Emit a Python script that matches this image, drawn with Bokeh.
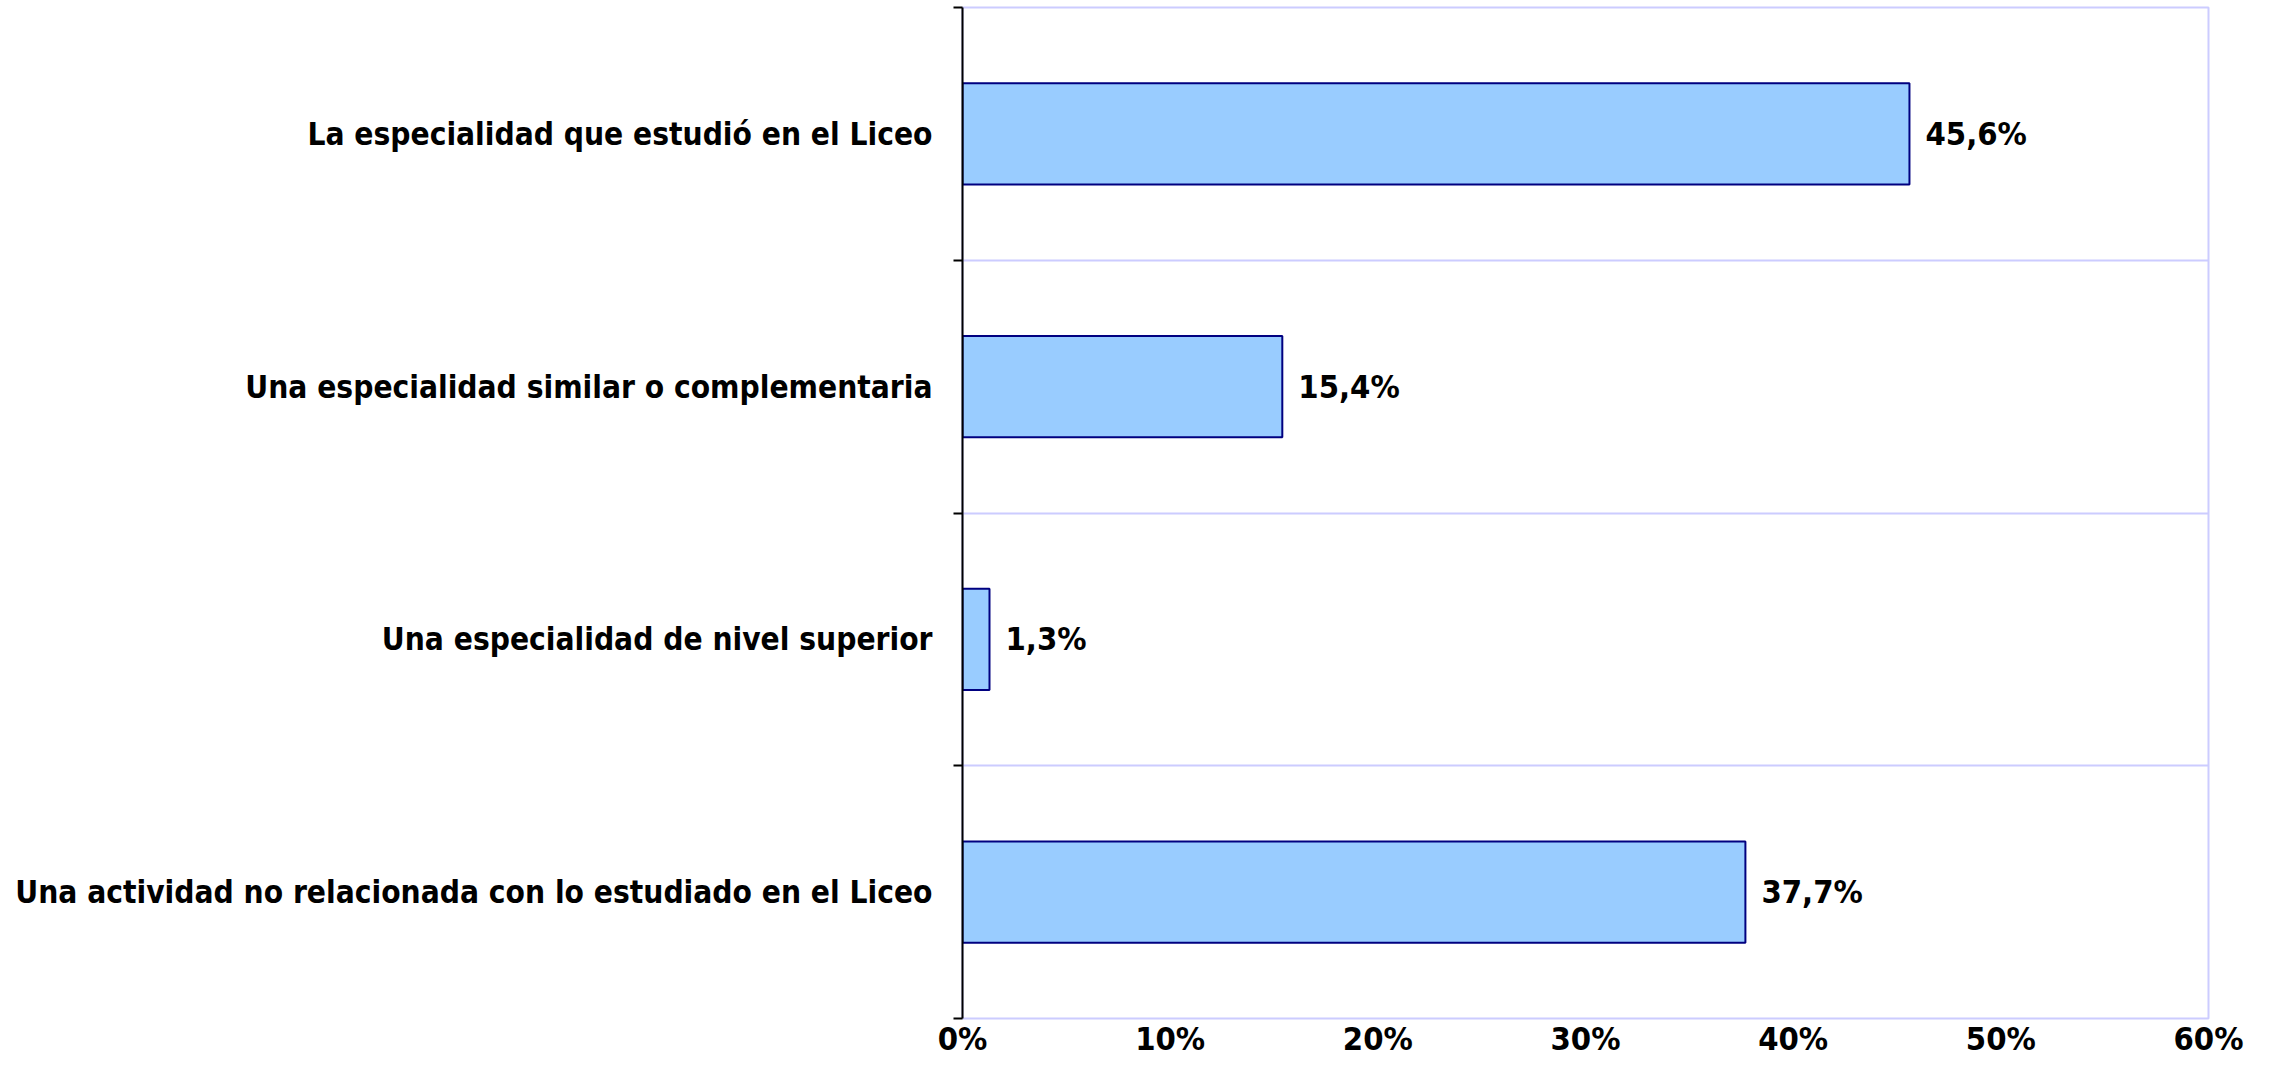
from bokeh.plotting import figure
from bokeh.models import Range1d, FixedTicker, NumeralTickFormatter, ColumnDataSource
from bokeh.core.properties import value
from bokeh.embed import file_html
from bokeh.resources import INLINE

# Data (top to bottom as in the chart)
categories = [
    "La especialidad que estudió en el Liceo",
    "Una especialidad similar o complementaria",
    "Una especialidad de nivel superior",
    "Una actividad no relacionada con lo estudiado en el Liceo",
]
values = [0.456, 0.154, 0.013, 0.377]
value_labels = ["45,6%", "15,4%", "1,3%", "37,7%"]
x_ticks = [0.0, 0.1, 0.2, 0.3, 0.4, 0.5, 0.6]

n = len(categories)
ypos = [n - i - 0.5 for i in range(n)]

FONT = "DejaVu Sans Condensed"
FS = "31.4px"
FS_NUM = "32.5px"
GRID = "#CCCCFF"

src = ColumnDataSource(dict(y=ypos, v=values, lab=value_labels, cat=categories))

p = figure(width=2261, height=1060, output_backend="svg", toolbar_location=None,
           x_range=Range1d(0, 0.6), y_range=Range1d(0, n),
           min_border_left=962, min_border_right=53, min_border_top=7, min_border_bottom=42)
p.outline_line_color = GRID
p.outline_line_width = 2
p.background_fill_color = "white"

p.hbar(y="y", right="v", left=0, height=0.4, source=src,
       fill_color="#99CCFF", line_color="#000080", line_width=2)

p.text(x="v", y="y", text="lab", source=src, x_offset=16,
       text_font=value(FONT), text_font_size=FS_NUM, text_font_style="bold",
       text_color="black", text_align="left", text_baseline="middle")

# x axis
xa = p.xaxis[0]
xa.ticker = FixedTicker(ticks=x_ticks)
xa.formatter = NumeralTickFormatter(format="0%")
xa.axis_line_color = None
xa.major_tick_line_color = None
xa.minor_tick_line_color = None
xa.major_tick_out = 0
xa.major_tick_in = 0
xa.minor_tick_out = 0
xa.minor_tick_in = 0
xa.major_label_text_font = FONT
xa.major_label_text_font_size = FS_NUM
xa.major_label_text_font_style = "bold"
xa.major_label_text_color = "black"
xa.major_label_standoff = 1

# y axis
ya = p.yaxis[0]
ya.ticker = FixedTicker(ticks=ypos, minor_ticks=list(range(n + 1)))
ya.major_label_overrides = {y: c for y, c in zip(ypos, categories)}
ya.axis_line_color = "black"
ya.axis_line_width = 2
ya.major_tick_line_color = None
ya.minor_tick_line_color = "black"
ya.minor_tick_line_width = 2
ya.minor_tick_out = 9
ya.minor_tick_in = 0
ya.major_label_text_font = FONT
ya.major_label_text_font_size = FS
ya.major_label_text_font_style = "bold"
ya.major_label_text_color = "black"
ya.major_label_standoff = 21

# grids: category boundaries only (frame border drawn by the outline)
p.xgrid.visible = False
p.ygrid.ticker = FixedTicker(ticks=list(range(n + 1)))
p.ygrid.grid_line_color = GRID
p.ygrid.grid_line_width = 2

open("out.html", "w").write(file_html(p, INLINE))
